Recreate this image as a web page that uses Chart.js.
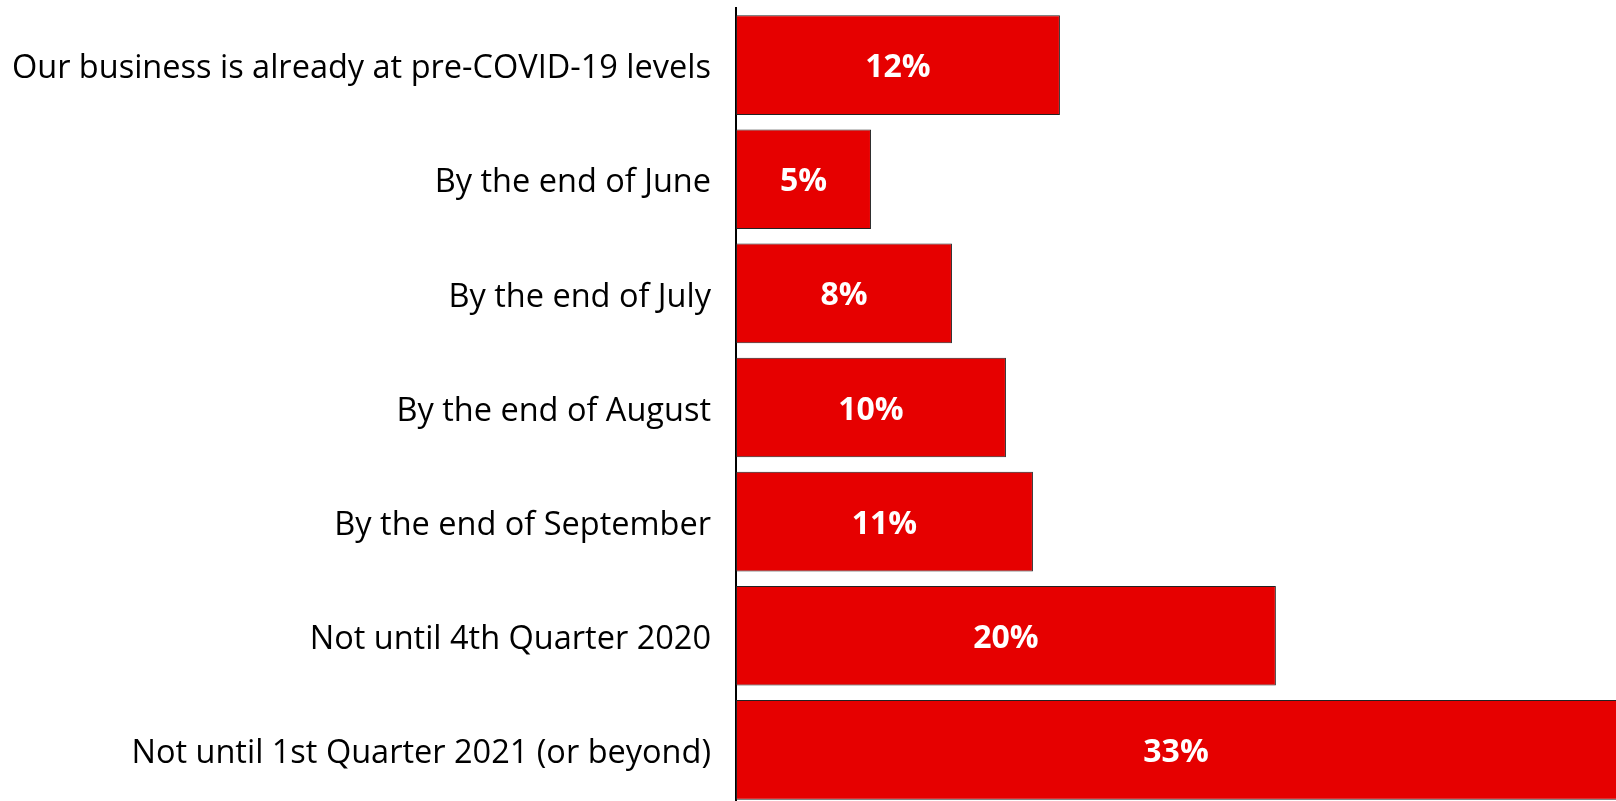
<!DOCTYPE html>
<html>
<head>
<meta charset="utf-8">
<script src="https://cdn.jsdelivr.net/npm/chart.js@4"></script>
<style>
  html, body { margin: 0; padding: 0; background: #fff; overflow: hidden; }
  #wrap { width: 1616px; height: 807px; }
</style>
</head>
<body>
<div id="wrap"><canvas id="grafico"></canvas></div>
<script>
// categorias e valores
var categorias = [
    'Our business is already at pre-COVID-19 levels',
    'By the end of June',
    'By the end of July',
    'By the end of August',
    'By the end of September',
    'Not until 4th Quarter 2020',
    'Not until 1st Quarter 2021 (or beyond)'
];
var valores = [12, 5, 8, 10, 11, 20, 33];
var rotulos = ['12%', '5%', '8%', '10%', '11%', '20%', '33%'];

// escreve o valor no meio de cada barra
var rotulosBarras = {
    id: 'rotulosBarras',
    afterDatasetsDraw: function(chart) {
        var ctx = chart.ctx;
        var area = chart.chartArea;
        var meta = chart.getDatasetMeta(0);
        ctx.save();
        ctx.fillStyle = '#ffffff';
        ctx.font = 'bold 32px "Open Sans"';
        ctx.textAlign = 'center';
        ctx.textBaseline = 'middle';
        meta.data.forEach(function(bar, i) {
            var dir = Math.min(bar.x, area.right);
            var x = (bar.base + dir) / 2;
            ctx.fillText(rotulos[i], x, bar.y + 3);
        });
        ctx.restore();
    }
};

var config = {
    type: 'bar',
    data: {
        labels: categorias,
        datasets: [{
            data: valores,
            backgroundColor: '#E60000',
            borderColor: '#222222',
            borderWidth: 1,
            borderSkipped: false,
            categoryPercentage: 1,
            barPercentage: 0.873
        }]
    },
    options: {
        indexAxis: 'y',
        responsive: true,
        maintainAspectRatio: false,
        animation: false,
        layout: { padding: { top: 8, bottom: 0, left: 0, right: 0 } },
        plugins: {
            legend: { display: false },
            tooltip: { enabled: false }
        },
        scales: {
            x: {
                display: false,
                min: 0,
                max: 32.6
            },
            y: {
                grid: { display: false },
                border: { display: true, color: '#000000', width: 2 },
                ticks: {
                    color: '#000000',
                    padding: 17,
                    labelOffset: 4,
                    font: { family: '"Open Sans"', size: 32.5 }
                },
                afterFit: function(scale) {
                    scale.width = 736;
                    scale.paddingTop = 0;
                    scale.paddingBottom = 0;
                }
            }
        }
    },
    plugins: [rotulosBarras]
};

var ctx = document.getElementById('grafico').getContext('2d');
new Chart(ctx, config);
</script>
</body>
</html>
